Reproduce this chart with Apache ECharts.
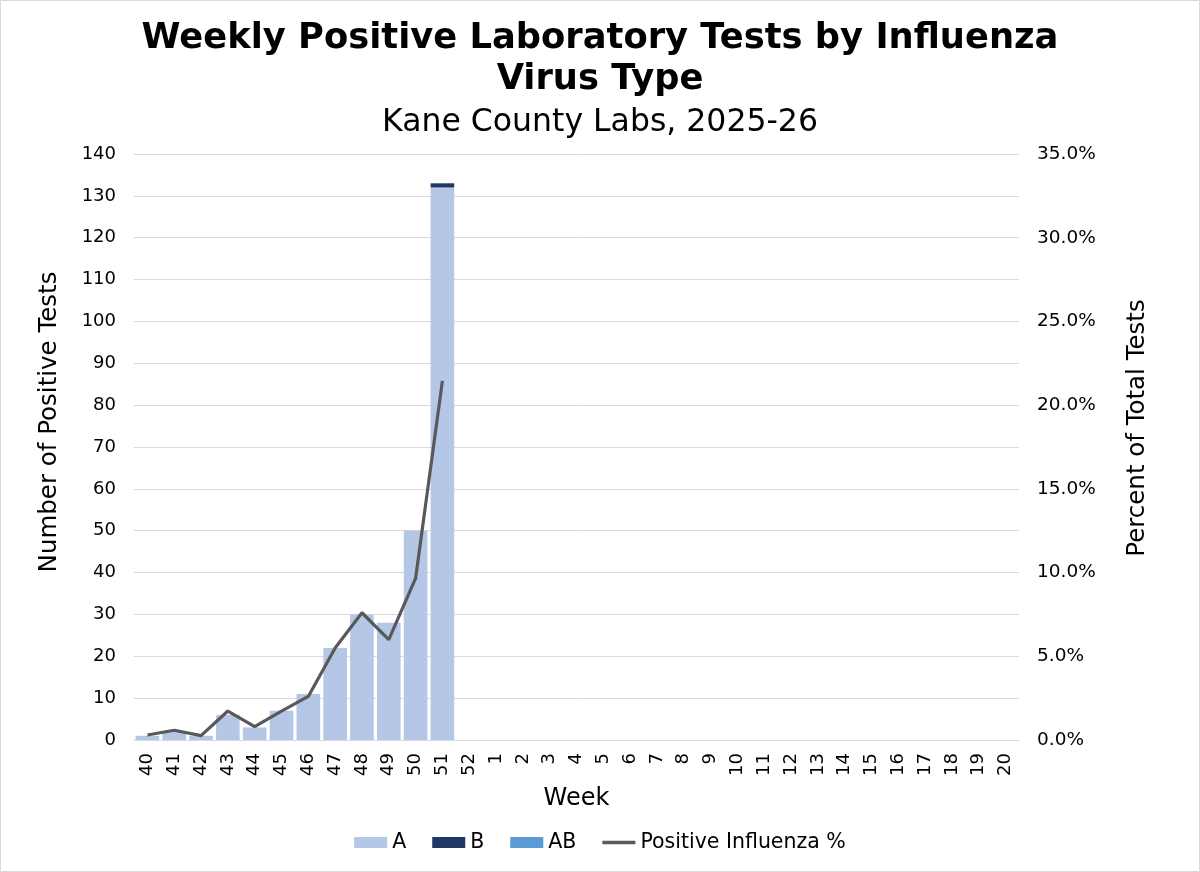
<!DOCTYPE html>
<html><head><meta charset="utf-8">
<script src="https://cdn.jsdelivr.net/npm/echarts@6/dist/echarts.min.js"></script>
<style>html,body{margin:0;padding:0;background:#fff}#c{width:1200px;height:872px}</style>
</head><body><div id="c"></div>
<script>
const weeks = ['40','41','42','43','44','45','46','47','48','49','50','51','52','1','2','3','4','5','6','7','8','9','10','11','12','13','14','15','16','17','18','19','20'];
const seriesA = [1,2,1,6,3,7,11,22,30,28,50,132,null,null,null,null,null,null,null,null,null,null,null,null,null,null,null,null,null,null,null,null,null];
const seriesB = [0,0,0,0,0,0,0,0,0,0,0,1,null,null,null,null,null,null,null,null,null,null,null,null,null,null,null,null,null,null,null,null,null];
const seriesAB = [0,0,0,0,0,0,0,0,0,0,0,0,null,null,null,null,null,null,null,null,null,null,null,null,null,null,null,null,null,null,null,null,null];
const positivePct = [0.3,0.58,0.26,1.73,0.8,1.72,2.6,5.5,7.6,6.0,9.65,21.45,null,null,null,null,null,null,null,null,null,null,null,null,null,null,null,null,null,null,null,null,null];
const leftTicks = {min:0,max:140,interval:10};
const rightTicks = {min:0,max:35,interval:5};

const FONT = 'DejaVu Sans';
const chart = echarts.init(document.getElementById('c'), null, {renderer:'canvas'});
chart.setOption({
  backgroundColor:'#fff',
  textStyle:{fontFamily:FONT},
  animation:false,
  graphic:[{type:'rect',shape:{x:0.5,y:0.5,width:1199,height:871},style:{fill:'none',stroke:'#d9d9d9',lineWidth:1}}],
  title:{
    text:'Weekly Positive Laboratory Tests by Influenza\nVirus Type',
    subtext:'Kane County Labs, 2025-26',
    left:'center', top:13, itemGap:5,
    textStyle:{fontFamily:FONT,fontSize:35.3,fontWeight:'bold',color:'#000',lineHeight:41},
    subtextStyle:{fontFamily:FONT,fontSize:31.5,color:'#000',lineHeight:36}
  },
  legend:{
    bottom:14, left:'center', itemWidth:33, itemHeight:11, itemGap:26,
    symbolKeepAspect:true,
    textStyle:{fontFamily:FONT,fontSize:20.5,color:'#000'},
    data:[{name:'A',icon:'rect'},{name:'B',icon:'rect'},{name:'AB',icon:'rect'},
      {name:'Positive Influenza %',icon:'path://M0,0 H33 V3.5 H0 Z'}]
  },
  grid:{left:134,right:181,top:154,bottom:132},
  xAxis:{
    type:'category', data:weeks, name:'Week', nameLocation:'middle', nameGap:47,
    nameTextStyle:{fontFamily:FONT,fontSize:24,color:'#000'},
    axisLine:{lineStyle:{color:'#d9d9d9',width:1}}, axisTick:{show:false},
    axisLabel:{rotate:90,interval:0,fontFamily:FONT,fontSize:18,color:'#000',margin:13}
  },
  yAxis:[{
    type:'value', min:leftTicks.min, max:leftTicks.max, interval:leftTicks.interval,
    name:'Number of Positive Tests', nameLocation:'middle', nameGap:72,
    nameTextStyle:{fontFamily:FONT,fontSize:24.5,color:'#000',padding:[0,0,0,50]},
    axisLine:{show:false}, axisTick:{show:false},
    axisLabel:{fontFamily:FONT,fontSize:18,color:'#000',margin:18},
    splitLine:{lineStyle:{color:'#d9d9d9',width:1}}
  },{
    type:'value', min:rightTicks.min, max:rightTicks.max, interval:rightTicks.interval,
    name:'Percent of Total Tests', nameLocation:'middle', nameGap:106,
    nameTextStyle:{fontFamily:FONT,fontSize:24.5,color:'#000',padding:[0,0,0,38]},
    axisLine:{show:false}, axisTick:{show:false},
    axisLabel:{fontFamily:FONT,fontSize:18.5,color:'#000',margin:18,formatter:v=>v.toFixed(1)+'%'},
    splitLine:{show:false}
  }],
  series:[
    {name:'A',type:'bar',stack:'t',data:seriesA,barCategoryGap:'12%',itemStyle:{color:'#b4c7e7'}},
    {name:'B',type:'bar',stack:'t',data:seriesB,itemStyle:{color:'#203864'}},
    {name:'AB',type:'bar',stack:'t',data:seriesAB,itemStyle:{color:'#5b9bd5'}},
    {name:'Positive Influenza %',type:'line',yAxisIndex:1,data:positivePct,symbol:'none',
      lineStyle:{color:'#595959',width:3.2},itemStyle:{color:'#595959'},connectNulls:false}
  ]
});
</script></body></html>
